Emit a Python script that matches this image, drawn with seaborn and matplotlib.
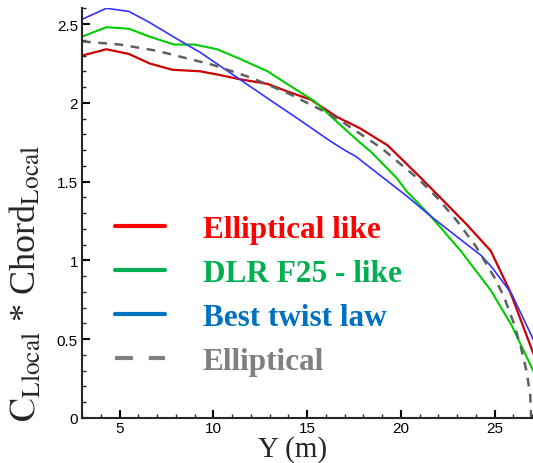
import numpy as np
import seaborn as sns
from matplotlib import pyplot as plt
from matplotlib.lines import Line2D
from matplotlib.ticker import MultipleLocator

# spanwise position (m) and C_L*chord
ell_like_y = [3.0, 4.3, 5.5, 6.6, 7.8, 9.3, 10.2, 11.4, 12.9, 14.0, 15.2, 16.6,
              17.8, 19.3, 21.1, 23.5, 24.8, 25.8, 27.1]
ell_like_cl = [2.30, 2.34, 2.31, 2.25, 2.21, 2.20, 2.18, 2.15, 2.12, 2.07, 2.02, 1.91,
               1.84, 1.73, 1.52, 1.23, 1.06, 0.81, 0.40]

dlr_y = [3.0, 4.3, 5.5, 6.6, 7.9, 9.0, 10.2, 11.4, 12.9, 13.8, 15.4, 16.4, 17.8,
         18.4, 19.8, 20.3, 21.6, 23.2, 24.8, 25.9, 27.1]
dlr_cl = [2.42, 2.48, 2.47, 2.42, 2.37, 2.37, 2.34, 2.28, 2.20, 2.13, 2.01, 1.90, 1.75,
          1.69, 1.52, 1.44, 1.28, 1.06, 0.81, 0.59, 0.29]

best_y = [3.0, 4.3, 5.5, 6.6, 8.0, 9.3, 11.4, 13.0, 14.5, 16.2, 17.0, 17.6, 19.0,
          20.3, 21.6, 23.0, 24.3, 24.9, 25.9, 27.1]
best_cl = [2.53, 2.60, 2.58, 2.51, 2.41, 2.32, 2.15, 2.02, 1.90, 1.76, 1.70, 1.66, 1.53,
           1.41, 1.28, 1.15, 1.03, 0.95, 0.79, 0.49]

ell_y = [3, 4, 5, 6, 7, 8, 9, 10, 11, 12, 13, 14, 15, 16, 17, 18, 19, 20, 21, 22,
         23, 24, 25, 25.5, 26, 26.4, 26.7, 26.9, 26.95]
ell_cl = [2.39, 2.38, 2.37, 2.35, 2.33, 2.30, 2.27, 2.24, 2.20, 2.16, 2.11, 2.06, 2.00,
          1.94, 1.87, 1.79, 1.71, 1.61, 1.51, 1.39, 1.25, 1.09, 0.89, 0.77, 0.61,
          0.45, 0.30, 0.15, 0.0]

labels = ['Elliptical like', 'DLR F25 - like', 'Best twist law', 'Elliptical']
line_colors = ['#cc0000', '#00cc00', '#3333ff', '#606060']
legend_colors = ['#ff0000', '#00b050', '#0070c0', '#808080']

sns.set_style('ticks')
plt.rcParams['mathtext.fontset'] = 'stix'

fig = plt.figure(figsize=(5.33, 4.64), dpi=100)
ax = fig.add_axes([0.154, 0.097, 0.846, 0.883])

sns.lineplot(x=ell_like_y, y=ell_like_cl, ax=ax, color=line_colors[0], lw=1.6, sort=False)
sns.lineplot(x=dlr_y, y=dlr_cl, ax=ax, color=line_colors[1], lw=1.5, sort=False)
sns.lineplot(x=best_y, y=best_cl, ax=ax, color=line_colors[2], lw=1.2, sort=False)
sns.lineplot(x=ell_y, y=ell_cl, ax=ax, color=line_colors[3], lw=1.8, sort=False,
             linestyle=(0, (3.5, 3.0)))

ax.set_xlim(3, 27.05)
ax.set_ylim(0, 2.6)
ax.xaxis.set_major_locator(MultipleLocator(5))
ax.xaxis.set_minor_locator(MultipleLocator(1))
ax.yaxis.set_minor_locator(MultipleLocator(0.1))
ax.set_yticks([0, 0.5, 1, 1.5, 2, 2.5])
ax.set_yticklabels(['0', '0.5', '1', '1.5', '2', '2.5'])
ax.tick_params(which='major', direction='in', length=6, width=1.5, pad=3,
               labelsize=11, colors='black')
ax.tick_params(axis='x', which='major', pad=2)
ax.tick_params(which='minor', direction='in', length=3, width=1.0)
for lab in ax.get_xticklabels() + ax.get_yticklabels():
    lab.set_family('Liberation Sans')

sns.despine(ax=ax)
ax.spines['left'].set_linewidth(1.5)
ax.spines['bottom'].set_linewidth(1.5)

ax.set_xlabel('Y (m)', family='Liberation Serif', fontsize=21)
ax.xaxis.set_label_coords(0.466, -0.041)
ax.set_ylabel(r'$\mathrm{C_{Llocal}}$ * Chord$_{\mathrm{Local}}$',
              family='Liberation Serif', fontsize=26)
ax.yaxis.set_label_coords(-0.085, 0.33)

handles = [Line2D([], [], color=legend_colors[0], lw=3),
           Line2D([], [], color=legend_colors[1], lw=3),
           Line2D([], [], color=legend_colors[2], lw=3),
           Line2D([], [], color=legend_colors[3], lw=3, linestyle=(0, (4.3, 3.8)))]
ax.legend(handles, labels, loc='upper left', bbox_to_anchor=(0.216, 0.535),
          bbox_transform=fig.transFigure, frameon=False, borderpad=0,
          borderaxespad=0, handlelength=1.6, handletextpad=1.2, labelspacing=0.48,
          labelcolor=legend_colors,
          prop={'family': 'Liberation Serif', 'weight': 'bold', 'size': 22.5})

fig.savefig('out.png', dpi=100)
